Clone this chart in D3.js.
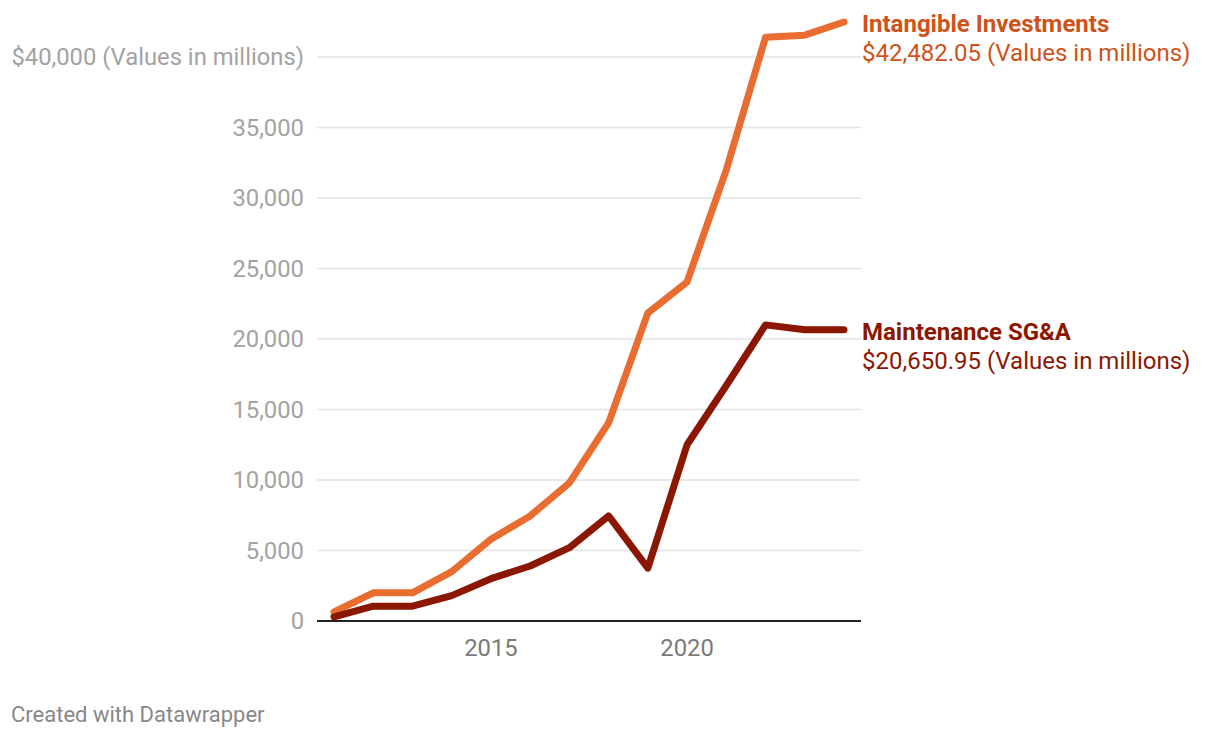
<!DOCTYPE html>
<html>
<head>
<meta charset="utf-8">
<script src="https://cdn.jsdelivr.net/npm/d3@7"></script>
<style>
  body { margin: 0; background: #fff; font-family: Roboto, "Noto Sans", sans-serif; }
</style>
</head>
<body>
<script>
// Data (values in millions)
const years = [2011, 2012, 2013, 2014, 2015, 2016, 2017, 2018, 2019, 2020, 2021, 2022, 2023, 2024];
const intangible = [650, 2000, 2000, 3500, 5800, 7450, 9800, 14050, 21850, 24050, 32000, 41400, 41550, 42482.05];
const maintenance = [300, 1050, 1050, 1800, 3000, 3900, 5200, 7450, 3750, 12500, 16700, 21000, 20650, 20650.95];
const yTicks = [0, 5000, 10000, 15000, 20000, 25000, 30000, 35000, 40000];
const xTicks = [2015, 2020];

const series = [
  { name: "Intangible Investments", values: intangible, color: "#e96d30", label: "#cf5219" },
  { name: "Maintenance SG&A", values: maintenance, color: "#8c1700", label: "#8c1700" }
];

let width = 1220,
    height = 738;

let svg = d3.select("body")
  .append("svg")
  .attr("width", width)
  .attr("height", height);

let xscale = d3.scaleLinear()
  .domain([2011, 2024])
  .range([334, 844]);

let yscale = d3.scaleLinear()
  .domain([0, 40000])
  .range([621, 57]);

// gridlines
svg.append("g")
  .selectAll("line")
  .data(yTicks.filter(d => d > 0))
  .enter().append("line")
  .attr("x1", 317)
  .attr("x2", 861)
  .attr("y1", d => yscale(d))
  .attr("y2", d => yscale(d))
  .attr("stroke", "#e3e3e3")
  .attr("stroke-width", 1.5);

// y labels
svg.append("g")
  .selectAll("text")
  .data(yTicks)
  .enter().append("text")
  .attr("x", 304)
  .attr("y", d => yscale(d))
  .attr("dy", "0.35em")
  .attr("text-anchor", "end")
  .attr("fill", "#a3a3a3")
  .style("font-size", "23.8px")
  .text(d => d === 40000 ? "$40,000 (Values in millions)" : d3.format(",")(d));

// x labels
svg.append("g")
  .selectAll("text")
  .data(xTicks)
  .enter().append("text")
  .attr("x", d => xscale(d))
  .attr("y", 648)
  .attr("dy", "0.35em")
  .attr("text-anchor", "middle")
  .attr("fill", "#7a7a7a")
  .style("font-size", "23.8px")
  .text(d => d);

// lines
let line = d3.line()
  .x((d, i) => xscale(years[i]))
  .y(d => yscale(d));

series.forEach(s => {
  svg.append("path")
    .datum(s.values)
    .attr("d", line)
    .attr("fill", "none")
    .attr("stroke", s.color)
    .attr("stroke-width", 7)
    .attr("stroke-linejoin", "round")
    .attr("stroke-linecap", "round");
});

// baseline
svg.append("line")
  .attr("x1", 317)
  .attr("x2", 861)
  .attr("y1", yscale(0))
  .attr("y2", yscale(0))
  .attr("stroke", "#222")
  .attr("stroke-width", 2);

// end labels
const labelY = [24, 332];
series.forEach((s, i) => {
  let g = svg.append("g");
  g.append("text")
    .attr("x", 862)
    .attr("y", labelY[i])
    .attr("dy", "0.35em")
    .attr("fill", s.label)
    .style("font-size", "24px")
    .style("font-weight", "bold")
    .text(s.name);
  g.append("text")
    .attr("x", 862)
    .attr("y", labelY[i] + 29)
    .attr("dy", "0.35em")
    .attr("fill", s.label)
    .style("font-size", "24px")
    .text("$" + d3.format(",.2f")(s.values[s.values.length - 1]) + " (Values in millions)");
});

// footer
svg.append("text")
  .attr("x", 11)
  .attr("y", 714)
  .attr("dy", "0.35em")
  .attr("fill", "#888")
  .style("font-size", "22px")
  .text("Created with Datawrapper");
</script>
</body>
</html>
